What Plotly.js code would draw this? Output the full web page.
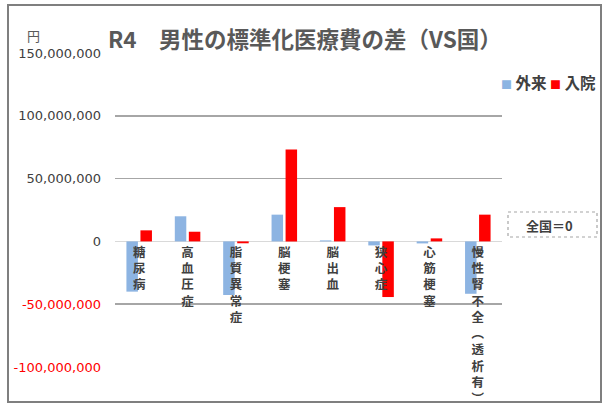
<!DOCTYPE html>
<html><head><meta charset="utf-8">
<script src="https://cdn.plot.ly/plotly-3.0.1.min.js"></script>
<style>html,body{margin:0;padding:0;background:#fff;}#chart{width:603px;height:405px;}</style>
</head><body><div id="chart"></div>
<script>
const categories = ["糖尿病","高血圧症","脂質異常症","脳梗塞","脳出血","狭心症","心筋梗塞","慢性腎不全︵透析有︶"];
const gairai = [-40000000, 20000000, -42700000, 21300000, 800000, -3200000, -1600000, -41700000];
const nyuin = [8800000, 7700000, -1500000, 73200000, 27300000, -44300000, 2400000, 21300000];
const seriesNames = ["外来","入院"];
const seriesColors = ['#8db4e2','#ff0000'];
const yTickVals = [-100000000,-50000000,0,50000000,100000000,150000000];
const yTickText = ["-100,000,000","-50,000,000","0","50,000,000","100,000,000","150,000,000"];

const vertical = s => Array.from(s).join("<br>");
const tickText = yTickText.map((t,i)=> yTickVals[i] < 0 ? '<span style="color:#ff0000">'+t+'</span>' : t);

const traces = [
  {type:'bar', name:seriesNames[0], x:categories, y:gairai, marker:{color:seriesColors[0]}},
  {type:'bar', name:seriesNames[1], x:categories, y:nyuin, marker:{color:seriesColors[1]}}
];

// plot area: x 115..502, y 53..367
const L=115, R=502, T=53, B=367;
const px = x => (x-L)/(R-L);
const py = y => (B-y)/(B-T);

const legendText = seriesNames.map((n,i)=>
  '<span style="color:'+seriesColors[i]+';font-size:11px">■</span> '+n).join(' ');

const layout = {
  width:603, height:405,
  margin:{l:L, r:603-R, t:T, b:405-B, pad:0, autoexpand:false},
  paper_bgcolor:'#fff', plot_bgcolor:'#fff',
  font:{family:'"Noto Sans CJK JP", "Noto Sans", sans-serif', color:'#404040'},
  barmode:'group', bargap:0.42, bargroupgap:0.18,
  showlegend:false,
  xaxis:{
    anchor:'free', position:0.4,
    tickvals:categories, ticktext:categories.map(vertical),
    ticks:'', showline:false, showgrid:false, zeroline:false,
    tickfont:{size:12.5, color:'#404040', weight:'bold'},
    ticklabelstandoff:2, fixedrange:true
  },
  yaxis:{
    range:[-100000000,150000000], tickvals:yTickVals, ticktext:tickText,
    showgrid:true, gridcolor:'#a6a6a6', gridwidth:1.5,
    zeroline:true, zerolinecolor:'#d9d9d9', zerolinewidth:1.5,
    showline:false, ticks:'', ticklabelstandoff:13,
    tickfont:{size:13, color:'#404040', family:'"DejaVu Sans", sans-serif'}
  },
  shapes:[
    {type:'rect', xref:'paper', yref:'paper', x0:px(8), x1:px(601), y0:py(5), y1:py(402),
     line:{color:'#7f7f7f', width:2}, fillcolor:'rgba(0,0,0,0)', layer:'below'},
    {type:'rect', xref:'paper', yref:'paper', x0:px(508), x1:px(597), y0:py(212), y1:py(237),
     line:{color:'#a6a6a6', width:1.2, dash:'dot'}, fillcolor:'rgba(0,0,0,0)'}
  ],
  annotations:[
    {text:'R4　男性の標準化医療費の差（VS国）', xref:'paper', yref:'paper', x:px(106), y:py(38),
     xanchor:'left', yanchor:'middle', showarrow:false,
     font:{size:22.5, color:'#595959', weight:'bold'}},
    {text:'円', xref:'paper', yref:'paper', x:px(25), y:py(35), xanchor:'left', yanchor:'middle',
     showarrow:false, font:{size:13, color:'#595959'}},
    {text:legendText, xref:'paper', yref:'paper', x:px(598), y:py(82), xanchor:'right', yanchor:'middle',
     showarrow:false, font:{size:15.5, color:'#404040', weight:'bold'}},
    {text:'全国＝0', xref:'paper', yref:'paper', x:px(549), y:py(225), xanchor:'center', yanchor:'middle',
     showarrow:false, font:{size:13, color:'#404040', weight:'bold'}}
  ]
};
Plotly.newPlot('chart', traces, layout, {displayModeBar:false, staticPlot:true});
</script></body></html>
